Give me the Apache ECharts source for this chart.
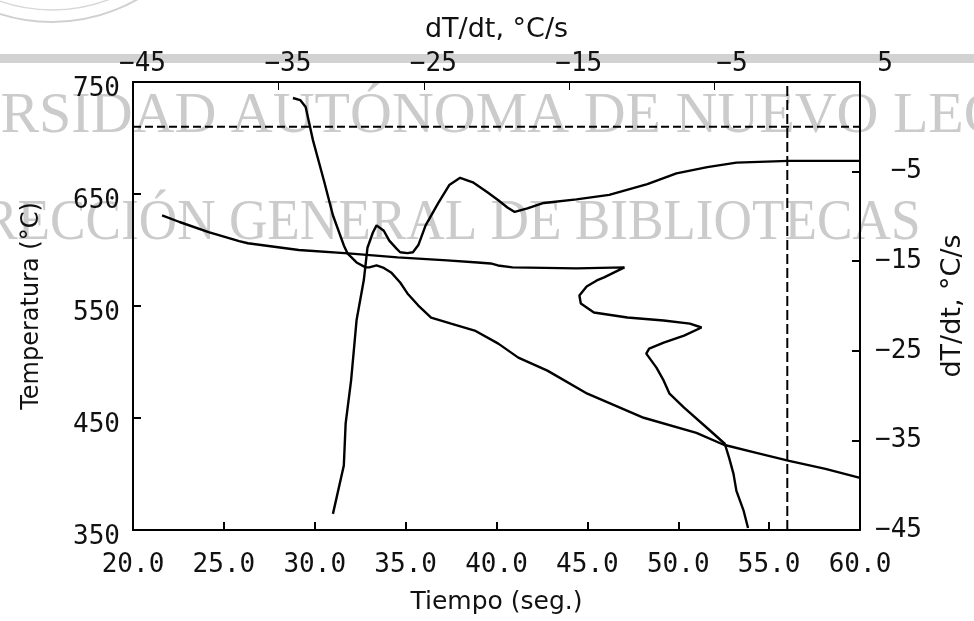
<!DOCTYPE html>
<html>
<head>
<meta charset="utf-8">
<script src="https://cdn.jsdelivr.net/npm/echarts@6/dist/echarts.min.js"></script>
<style>
  html, body { margin: 0; padding: 0; background: #fff; }
  #chart { width: 974px; height: 621px; }
</style>
</head>
<body>
<div id="chart"></div>
<script>
// curva de enfriamiento: T (°C) contra tiempo (s)
var coolTime = [28.8, 29.2, 29.5, 29.9, 30.5, 31.0, 31.6, 31.8, 32.3, 32.8, 33.0, 33.4, 33.8, 34.2, 34.7,
    35.1, 35.7, 36.4, 37.5, 38.8, 40.1, 41.2, 42.8, 45.0, 48.1, 51.0, 52.5, 54.3, 56.1, 58.1, 60.0];
var coolTemp = [735.7, 733.9, 727.6, 698.1, 662.3, 631.0, 604.1, 597.0, 588.9, 584.5, 584.5, 586.2, 584.0, 580.0, 571.0,
    561.2, 550.4, 539.7, 534.3, 528.1, 516.4, 503.9, 492.3, 471.7, 450.2, 436.8, 426.1, 418.9, 411.7, 404.6, 396.5];

// dT/dt (°C/s) contra tiempo (s)
var rateTime = [31.0, 31.6, 31.7, 32.0, 32.3, 32.7, 32.9, 33.2, 33.4, 33.8, 34.1, 34.5, 34.7, 35.1, 35.4, 35.7,
    36.1, 36.8, 37.4, 38.0, 38.7, 39.5, 40.1, 40.6, 41.0, 41.7, 42.6, 44.4, 46.2, 48.3, 49.9, 51.6, 53.2, 56.1, 60.0];
var rateVal = [-43.2, -37.8, -33.1, -28.3, -21.6, -17.1, -13.5, -11.8, -11.0, -11.6, -12.7, -13.6, -14.0, -14.1, -14.0, -13.2,
    -11.0, -8.5, -6.5, -5.7, -6.2, -7.3, -8.2, -9.0, -9.5, -9.1, -8.5, -8.1, -7.6, -6.4, -5.2, -4.5, -4.0, -3.8, -3.8];

// T (°C) contra dT/dt (°C/s), eje superior
var loopRate = [-43.0, -41.8, -39.8, -37.7, -37.1, -33.6, -30.2, -26.8, -23.4, -21.3, -20.4, -19.9, -18.9, -14.5, -11.2,
    -12.6, -13.1, -13.8, -14.3, -14.2, -13.3, -11.0, -8.5, -6.7, -5.9, -7.1, -8.5, -9.5, -9.7, -9.0, -8.5, -8.1,
    -7.1, -5.3, -4.3, -4.0, -3.7, -3.5, -3.0, -2.7];
var loopTemp = [631, 625, 616, 608, 606, 600, 597, 593.4, 590.7, 588.9, 588, 586.2, 584.5, 583.6, 584.5,
    575.5, 572.8, 567.4, 559.4, 552.2, 544.2, 539.7, 537.0, 534.3, 530.8, 523.6, 517.3, 512, 507.5, 495, 483.3, 471.7,
    459.2, 438.6, 427, 414.4, 400.1, 384.9, 367, 351.8];

var refTemp = 710;
var refTime = 56;

var pairs = function (xs, ys) {
    var out = [];
    for (var i = 0; i < xs.length; i++) {
        out.push([xs[i], ys[i]]);
    }
    return out;
};

var minus = function (v) {
    return String(v).replace('-', '\u2212');
};

var numFont = 'DejaVu Sans Mono';
var nameFont = 'DejaVu Sans';
var ink = '#000';
var wm = '#cbcbcb';

var axisBase = function () {
    return {
        type: 'value',
        axisLine: { show: true, onZero: false, lineStyle: { color: ink, width: 2 } },
        axisTick: { show: true, inside: true, length: 8, lineStyle: { color: ink, width: 2 } },
        splitLine: { show: false },
        nameTextStyle: { fontFamily: nameFont, color: '#111', fontSize: 25 }
    };
};

var xBottom = axisBase();
xBottom.position = 'bottom';
xBottom.min = 20; xBottom.max = 60; xBottom.interval = 5;
xBottom.name = 'Tiempo (seg.)';
xBottom.nameLocation = 'middle';
xBottom.nameGap = 60;
xBottom.axisLabel = {
    fontFamily: numFont, fontSize: 26, color: '#111', margin: 22,
    formatter: function (v) { return v.toFixed(1); }
};

var xTop = axisBase();
xTop.position = 'top';
xTop.min = -45; xTop.max = 5; xTop.interval = 10;
xTop.name = 'dT/dt, °C/s';
xTop.nameLocation = 'middle';
xTop.nameGap = 39;
xTop.nameTextStyle.fontSize = 27;
xTop.axisTick.lineStyle.width = 1;
xTop.axisLabel = {
    fontFamily: numFont, fontSize: 26, color: '#111', margin: 5,
    align: 'right', padding: [0, -33, 0, 0],
    formatter: minus
};

var yLeft = axisBase();
yLeft.position = 'left';
yLeft.min = 350; yLeft.max = 750; yLeft.interval = 100;
yLeft.name = 'Temperatura (°C)';
yLeft.nameLocation = 'middle';
yLeft.nameGap = 89;
yLeft.nameRotate = 90;
yLeft.nameTextStyle.fontSize = 24;
yLeft.axisLabel = {
    fontFamily: numFont, fontSize: 26, color: '#111', margin: 13,
    verticalAlign: 'top', lineHeight: 14
};

var yRight = axisBase();
yRight.position = 'right';
yRight.min = -45; yRight.max = 5; yRight.interval = 10;
yRight.name = 'dT/dt, °C/s';
yRight.nameLocation = 'middle';
yRight.nameGap = 79;
yRight.nameRotate = 90;
yRight.nameTextStyle.fontSize = 27;
yRight.axisLabel = {
    fontFamily: numFont, fontSize: 26, color: '#111', margin: 62,
    align: 'right', showMaxLabel: false,
    formatter: minus
};

var curve = function (name, xi, yi, data) {
    return {
        name: name,
        type: 'line',
        xAxisIndex: xi,
        yAxisIndex: yi,
        data: data,
        showSymbol: false,
        smooth: false,
        silent: true,
        lineStyle: { color: ink, width: 2.4 },
        z: 5
    };
};

var refLine = function (data, dash) {
    var s = curve('ref', 0, 0, data);
    s.lineStyle = { color: ink, width: 2, type: dash };
    s.z = 4;
    return s;
};

var chart = echarts.init(document.getElementById('chart'), null, { renderer: 'canvas' });

var option = {
    backgroundColor: '#fff',
    animation: false,
    grid: { left: 133, right: 111, top: 82, bottom: 91, containLabel: false },
    xAxis: [xBottom, xTop],
    yAxis: [yLeft, yRight],
    graphic: [
        // marca de agua del escaneo
        { type: 'circle', z: -10, shape: { cx: 52, cy: -150, r: 172 },
            style: { fill: 'none', stroke: '#d0d0d0', lineWidth: 2 } },
        { type: 'circle', z: -10, shape: { cx: 52, cy: -150, r: 160 },
            style: { fill: 'none', stroke: '#d8d8d8', lineWidth: 1.5 } },
        { type: 'rect', z: -10, shape: { x: 0, y: 54, width: 974, height: 9 }, style: { fill: '#d2d2d2' } },
        { type: 'text', z: -10, x: -180, y: 117,
            style: { text: 'UNIVERSIDAD AUTÓNOMA DE NUEVO LEÓN', fill: wm,
                font: '58px "Liberation Serif"', verticalAlign: 'middle' } },
        { type: 'text', z: -10, x: -74, y: 224, scaleX: 0.95,
            style: { text: 'DIRECCIÓN GENERAL DE BIBLIOTECAS', fill: wm,
                font: '56px "Liberation Serif"', verticalAlign: 'middle' } }
    ],
    series: [
        refLine([[20, refTemp], [60, refTemp]], [8, 4]),
        refLine([[refTime, 350], [refTime, 750]], [10, 4]),
        curve('enfriamiento', 0, 0, pairs(coolTime, coolTemp)),
        curve('dT/dt', 0, 1, pairs(rateTime, rateVal)),
        curve('T vs dT/dt', 1, 0, pairs(loopRate, loopTemp))
    ]
};

chart.setOption(option);
</script>
</body>
</html>
